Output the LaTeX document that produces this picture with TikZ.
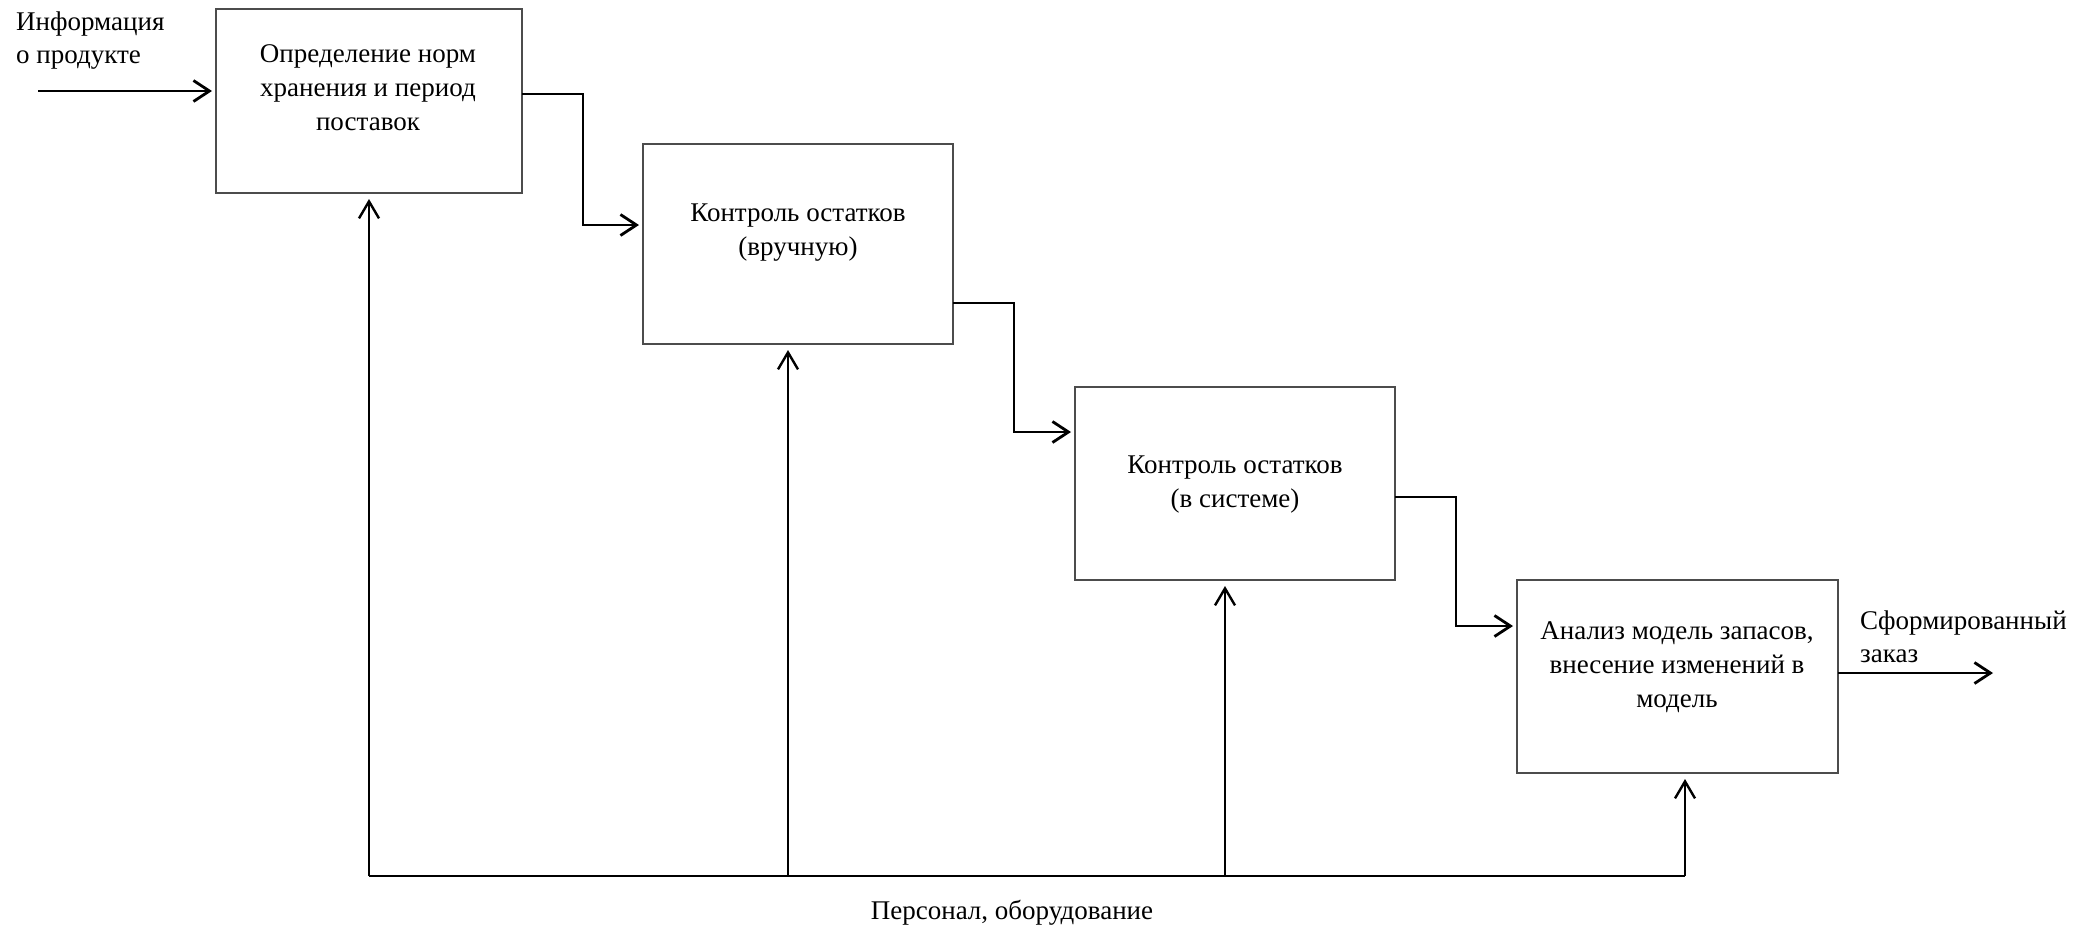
\documentclass[tikz,border=0pt]{standalone}
\usepackage{fontspec}
\setmainfont{Liberation Serif}
\usetikzlibrary{arrows.meta}
\begin{document}
\begin{tikzpicture}[x=1pt,y=-1pt,
  box/.style={draw=black!70, line width=1.5pt, fill=white, inner sep=0pt, outer sep=0pt, anchor=north west},
  txt/.style={align=center, font=\fontsize{27}{34}\selectfont, inner sep=0pt},
  lbl/.style={align=left, font=\fontsize{27}{33}\selectfont, inner sep=0pt},
  flow/.style={line width=2.8pt, shorten >=4pt, -{Straight Barb[length=16pt,width=21pt,line width=2.8pt]}},
  ctrl/.style={line width=2.4pt},
  ctrlarrow/.style={line width=2.4pt, shorten >=6pt, -{Straight Barb[length=17pt,width=20pt,line width=2.4pt]}}]
\useasboundingbox (0,0) rectangle (2076,927);
\fill[white] (0,0) rectangle (2076,927);

% boxes
\node[box, minimum width=306pt, minimum height=184pt] (b1) at (216,9) {};
\node[box, minimum width=310pt, minimum height=200pt] (b2) at (643,144) {};
\node[box, minimum width=320pt, minimum height=193pt] (b3) at (1075,387) {};
\node[box, minimum width=321pt, minimum height=193pt] (b4) at (1517,580) {};

% box texts
\node[txt] (t1) at (368,88) {Определение норм\\хранения и период\\поставок};
\node[txt] (t2) at (798,233) {Контроль остатков\\(вручную)};
\node[txt] (t3) at (1235,485) {Контроль остатков\\(в системе)};
\node[txt] (t4) at (1677,667) {Анализ модель запасов,\\внесение изменений в\\модель};

% input
\coordinate (in1) at (38,91);
\node[lbl, anchor=north west] (lin) at (16,12) {Информация\\о продукте};
\draw[flow] (in1) -- (b1.west |- in1);

% process flow
\draw[flow] (b1.east |- 0,94) -- (583,94) |- (b2.west |- 0,225);
\draw[flow] (b2.east |- 0,303) -- (1014,303) |- (b3.west |- 0,432);
\draw[flow] (b3.east |- 0,497) -- (1456,497) |- (b4.west |- 0,626);

% output
\coordinate (out) at (1997,673);
\draw[flow] (b4.east |- out) -- (out);
\node[lbl, anchor=north west] (lout) at (1860,611) {Сформированный\\заказ};

% mechanisms
\coordinate (m1) at (369,876);
\coordinate (m2) at (788,876);
\coordinate (m3) at (1225,876);
\coordinate (m4) at (1685,876);
\draw[ctrl] (m1) -- (m4);
\draw[ctrlarrow] (m1) -- (m1 |- b1.south);
\draw[ctrlarrow] (m2) -- (m2 |- b2.south);
\draw[ctrlarrow] (m3) -- (m3 |- b3.south);
\draw[ctrlarrow] (m4) -- (m4 |- b4.south);
\node[lbl, anchor=center] (lmech) at (1012,913) {Персонал, оборудование};
\end{tikzpicture}
\end{document}
